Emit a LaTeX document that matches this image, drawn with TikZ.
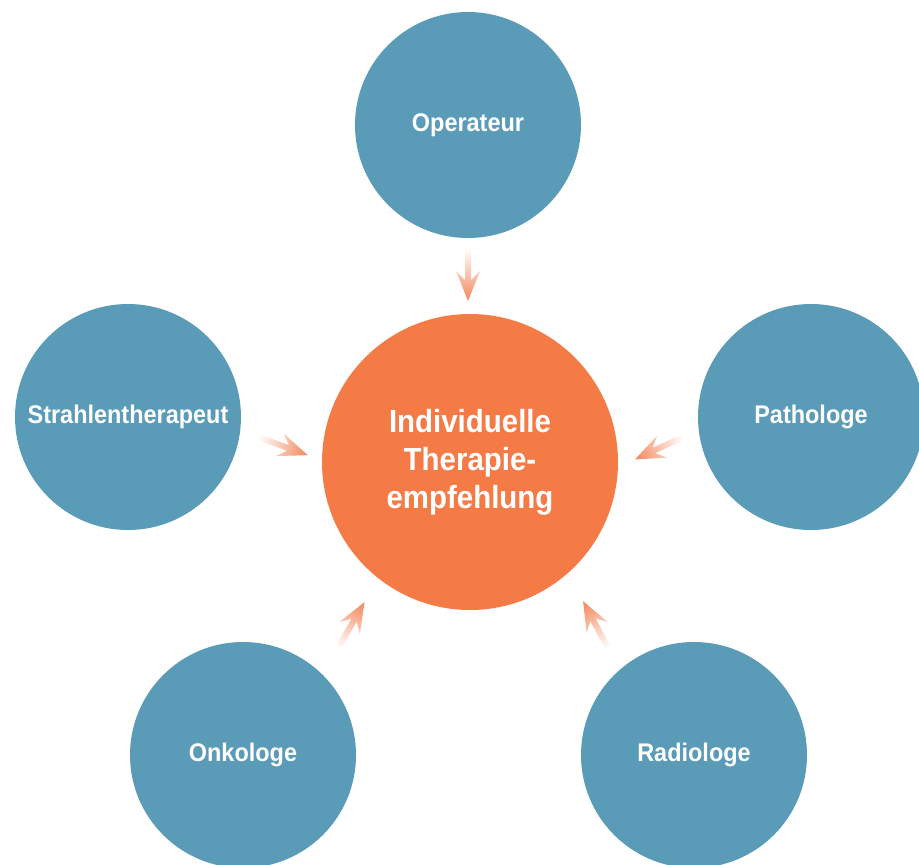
\documentclass[tikz,border=0pt]{standalone}
\usepackage{fontspec}
\setmainfont{Liberation Sans}[FakeStretch=0.92]
\definecolor{roleblue}{HTML}{5A9BB8}
\definecolor{centerorange}{HTML}{F47B45}
\definecolor{arroworange}{HTML}{F2875A}
\begin{document}
\begin{tikzpicture}[x=1pt,y=-1pt,
  role/.style={circle,fill=roleblue,minimum size=226pt,inner sep=0pt,
    text=white,font=\fontsize{25.5}{30}\selectfont\bfseries},
  hub/.style={circle,fill=centerorange,minimum size=296pt,inner sep=0pt,
    text=white,align=center,font=\fontsize{32}{38}\selectfont\bfseries}]
\useasboundingbox (0,0) rectangle (919,865);
\clip (0,0) rectangle (919,865);

\node[hub] (center) at (470,462) {Individuelle\\Therapie-\\empfehlung};
\node[role] (op) at (468,125) {Operateur};
\node[role] (st) at (128,417) {Strahlentherapeut};
\node[role] (pa) at (811,417) {Pathologe};
\node[role] (on) at (243,755) {Onkologe};
\node[role] (ra) at (694,755) {Radiologe};

% fading arrow drawn along local x, tail at 0 and tip at 53,
% the whole drawing is placed and turned on the canvas
\newcommand{\fadearrow}[2]{%
  \begin{scope}[transform canvas={shift={(#1)},rotate=#2}]
    \shade[left color=white,right color=arroworange]
      (0,-3) -- (32,-3) -- (23,-12) -- (53,0) -- (23,12) -- (32,3) -- (0,3) -- cycle;
  \end{scope}}
\coordinate (a1) at (468,248);
\coordinate (a2) at (258,437);
\coordinate (a3) at (683,437);
\coordinate (a4) at (338,648);
\coordinate (a5) at (608,648);
\fadearrow{a1}{-90}
\fadearrow{a2}{-20}
\fadearrow{a3}{-155}
\fadearrow{a4}{60}
\fadearrow{a5}{118}
\end{tikzpicture}
\end{document}
